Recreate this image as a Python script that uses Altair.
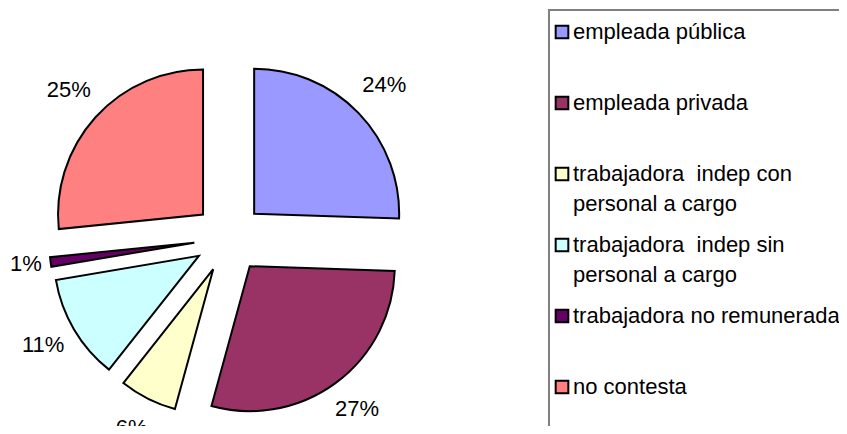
import altair as alt
import pandas as pd

categories = [
    "empleada pública",
    "empleada privada",
    "trabajadora  indep con personal a cargo",
    "trabajadora  indep sin personal a cargo",
    "trabajadora no remunerada",
    "no contesta",
]
legend_labels = [
    "empleada pública",
    "empleada privada",
    "trabajadora\u00a0 indep con\npersonal a cargo",
    "trabajadora\u00a0 indep sin\npersonal a cargo",
    "trabajadora no remunerada",
    "no contesta",
]
values = [24, 27, 6, 11, 1, 25]
pct_labels = ["24%", "27%", "6%", "11%", "1%", "25%"]
colors = ["#9999FF", "#993366", "#FFFFCC", "#CCFFFF", "#660066", "#FF8080"]

df = pd.DataFrame({
    "cat": categories,
    "legend": legend_labels,
    "value": values,
    "pct": pct_labels,
    "order": list(range(len(categories))),
})

W, H = 831, 418
CX, CY = 221, 230      # pie centre (px)
R = 145                # radius
D = 35                 # explode offset
LR = 216               # label radius
LMIN = 18              # keep labels inside the left edge
FONT = "Liberation Sans"

color = alt.Color("cat:N", scale=alt.Scale(domain=categories, range=colors), legend=None)

base = alt.Chart(df).transform_joinaggregate(
    total="sum(value)"
).transform_window(
    cum="sum(value)", sort=[alt.SortField("order")], frame=[None, 0]
).transform_calculate(
    t1="2*PI*(datum.cum - datum.value)/datum.total",
    t2="2*PI*datum.cum/datum.total",
).transform_calculate(
    mid="(datum.t1 + datum.t2)/2",
).transform_calculate(
    px=f"{CX} + {D}*sin(datum.mid)",
    py=f"{CY} - {D}*cos(datum.mid)",
    lx=f"max({LMIN}, {CX} + {LR}*sin(datum.mid))",
    ly=f"{CY} - 3 - {LR}*cos(datum.mid)",
)

arcs = base.mark_arc(outerRadius=R, stroke="black", strokeWidth=2).encode(
    theta=alt.Theta("t1:Q", scale=None),
    theta2="t2:Q",
    x=alt.X("px:Q", scale=None),
    y=alt.Y("py:Q", scale=None),
    color=color,
)

labels = base.mark_text(font=FONT, fontSize=22, color="black", align="center", baseline="middle").encode(
    x=alt.X("lx:Q", scale=None),
    y=alt.Y("ly:Q", scale=None),
    text="pct:N",
)

leg = alt.Chart(df).transform_calculate(
    ly="24 + 71*datum.order",
    lyt="31 + 71*datum.order",
    ltxt="split(datum.legend, '\\n')",
)

box = alt.Chart(df).mark_rect(fill=None, stroke="#808080", strokeWidth=2).encode(
    x=alt.value(541), x2=alt.value(W + 20), y=alt.value(2), y2=alt.value(H + 20)
)

squares = leg.mark_point(shape="square", filled=True, size=160, stroke="black", strokeWidth=2, opacity=1).encode(
    x=alt.value(554),
    y=alt.Y("ly:Q", scale=None),
    fill=alt.Fill("cat:N", scale=alt.Scale(domain=categories, range=colors), legend=None),
)

ltext = leg.mark_text(font=FONT, fontSize=22, color="black", align="left", baseline="alphabetic", lineHeight=30).encode(
    x=alt.value(565),
    y=alt.Y("lyt:Q", scale=None),
    text="ltxt:N",
)

chart = alt.layer(box, arcs, labels, squares, ltext).properties(
    width=W, height=H, padding=0, autosize=alt.AutoSizeParams(type="none")
).configure_view(strokeWidth=0)

chart.save("out.html", embed_options={"renderer": "svg", "actions": False})
